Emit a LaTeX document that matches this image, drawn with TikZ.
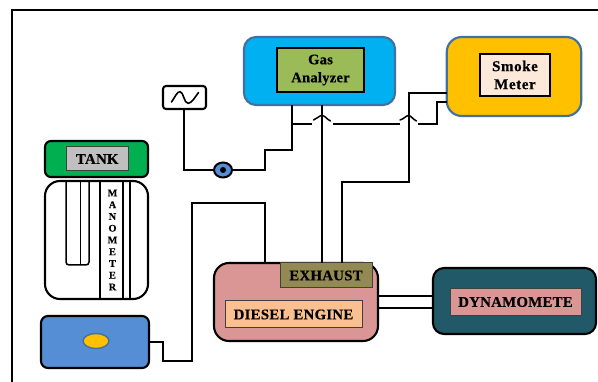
\documentclass[tikz,border=0pt]{standalone}
\usepackage{fontspec}
\setmainfont{Liberation Serif}[LetterSpace=2,BoldFeatures={FakeBold=0.4}]
\usetikzlibrary{calc,shapes.geometric}
\definecolor{cgas}{HTML}{00B0F0}
\definecolor{cedge}{HTML}{41719C}
\definecolor{cgasin}{HTML}{9BBB59}
\definecolor{csmoke}{HTML}{FFC000}
\definecolor{csmokein}{HTML}{FDE9D9}
\definecolor{ctank}{HTML}{00B050}
\definecolor{cgray}{HTML}{BFBFBF}
\definecolor{cblue}{HTML}{558ED5}
\definecolor{cpink}{HTML}{D99694}
\definecolor{cexh}{HTML}{938953}
\definecolor{cdiesel}{HTML}{FAC090}
\definecolor{cdyno}{HTML}{215968}
\tikzset{
  boxbase/.style={draw=black,line width=2.1pt,outer sep=0pt,inner sep=0pt,align=center},
  outerbox/.style={boxbase,minimum width=#1},
  blueedge/.style={draw=cedge},
  innerbox/.style={draw=black!75,line width=1pt,outer sep=0pt,inner sep=0pt,align=center,font=\fontsize{14.8}{18}\selectfont\bfseries,text=black},
  wire/.style={draw=black,line width=2pt,line join=miter},
  thinwire/.style={draw=black,line width=1.5pt},
}
\begin{document}
\begin{tikzpicture}[x=1pt,y=-1pt]
\useasboundingbox (0,0) rectangle (598,382);
\fill[white] (0,0) rectangle (598,382);
% frame
\draw[line width=2.6pt] (12,382) -- (12,10) -- (598,10);

% nodes
\node[outerbox=151,blueedge,fill=cgas,minimum height=68,rounded corners=12] (gas) at (319.5,71) {};
\node[innerbox,line width=1.7pt,draw=black,fill=cgasin,minimum width=87,minimum height=44,font=\fontsize{14.5}{18}\selectfont\bfseries] (gasin) at (320.5,70) {Gas\\Analyzer};
\node[outerbox=134.5,blueedge,fill=csmoke,minimum height=79,rounded corners=15] (smoke) at (514,76.5) {};
\node[innerbox,line width=1.7pt,draw=black,fill=csmokein,minimum width=69.5,minimum height=42,font=\fontsize{15}{18}\selectfont\addfontfeature{LetterSpace=4}\bfseries] (smokein) at (515,75) {Smoke\\Meter};
\node[outerbox=43,fill=white,minimum height=23,rounded corners=3] (wave) at (184.5,97.5) {};
\node[outerbox=103,fill=ctank,minimum height=36,rounded corners=6] (tank) at (96.5,159) {};
\node[innerbox,fill=cgray,minimum width=62.5,minimum height=24] (tankin) at (97.25,159) {TANK};
\node[outerbox=103,fill=white,minimum height=118,rounded corners=15] (mano) at (96.5,240) {};
\node[outerbox=108,fill=cblue,minimum height=52,rounded corners=7] (fuel) at (95,342) {};
\node[draw=cedge,line width=1.4pt,fill=csmoke,ellipse,minimum width=26,minimum height=15,inner sep=0pt] (oval) at (96,341) {};
\node[draw=black,line width=2pt,fill=cblue,ellipse,minimum width=18,minimum height=15,inner sep=0pt,outer sep=0pt] (valve) at (223,170) {};
\fill[black] (valve) circle (3);
\node[outerbox=164,fill=cpink,minimum height=78,rounded corners=15] (engine) at (296,302) {};
\node[innerbox,fill=cexh,minimum width=92,minimum height=25] (exhaust) at (326,275.5) {EXHAUST};
\node[innerbox,fill=cdiesel,minimum width=137,minimum height=27] (diesel) at (293.5,314.5) {DIESEL ENGINE};
\node[outerbox=163,fill=cdyno,minimum height=66,rounded corners=11] (dyno) at (514.5,301) {};
\node[innerbox,fill=cpink,minimum width=131,minimum height=27] (dynoin) at (515.5,302) {DYNAMOMETE};

% manometer interior
\draw[thinwire,rounded corners=3] (66,181) -- (66,265) -- (89,265) -- (89,181);
\draw[thinwire] (80.5,181) -- (80.5,265);
\draw[wire,line width=1.7pt] (100,181) -- (100,299);
\draw[wire,line width=1.7pt] (123,181) -- (123,299);
\draw[wire,line width=1.7pt] (130.3,181) -- (130.3,299);
\node[font=\fontsize{10.3}{11.75}\selectfont\bfseries,text=black,align=center,inner sep=0pt] (manotext) at (112.5,240) {M\\A\\N\\O\\M\\E\\T\\E\\R};

% sine
\draw[line width=1.6pt,line cap=round] (171.5,102) .. controls (175,97) and (177,91.7) .. (180,91.7)
  .. controls (183.5,91.7) and (184,103.3) .. (188,103.3) .. controls (192,103.3) and (195,97) .. (198.5,92.5);

% connector coordinates
\coordinate (waveS) at (183.5,109);
\coordinate (gasL) at (291.5,105);
\coordinate (gasM) at (322,105);
\coordinate (exA) at (322,263);
\coordinate (exB) at (342,263);
\coordinate (engT) at (264.5,263);
\coordinate (smA) at (446.5,93);
\coordinate (smB) at (446.5,102);
\coordinate (hopAl) at (313.5,120);
\coordinate (hopAt) at (322,115.5);
\coordinate (hopAr) at (330.5,121);
\coordinate (hopBl) at (400,120);
\coordinate (hopBt) at (408.5,115.5);
\coordinate (hopBr) at (416.5,121);

% connectors
\draw[wire] (waveS) |- (valve.west);
\draw[wire] (valve.east) -- (264.5,170) -- (264.5,150) -- (291.5,150) -- (gasL);
\draw[wire] (291.5,124.5) -- (312,124.5);
\draw[wire] (333,124.5) -- (400,124.5);
\draw[wire] (418,124.5) -- (437,124.5) -- (437,102) -- (smB);
\draw[wire] (gasM) -- (exA);
\draw[wire] (exB) -- (342,182) -- (408.7,182) -- (408.7,93) -- (smA);
\draw[wire] (fuel.east) -- (163,342) -- (163,361) -- (191.5,361) -- (191.5,203.5) -- (264.5,203.5) -- (engT);
\draw[wire] (378,295.7) -- (433,295.7);
\draw[wire] (378,308) -- (433,308);
\draw[thinwire,line cap=round] (hopAl) .. controls (317,119) and (319,115.5) .. (hopAt) .. controls (325,115.5) and (327,119.5) .. (hopAr);
\draw[thinwire,line cap=round] (hopBl) .. controls (404,119) and (406,115.5) .. (hopBt) .. controls (411,115.5) and (413,119.5) .. (hopBr);
\end{tikzpicture}
\end{document}
